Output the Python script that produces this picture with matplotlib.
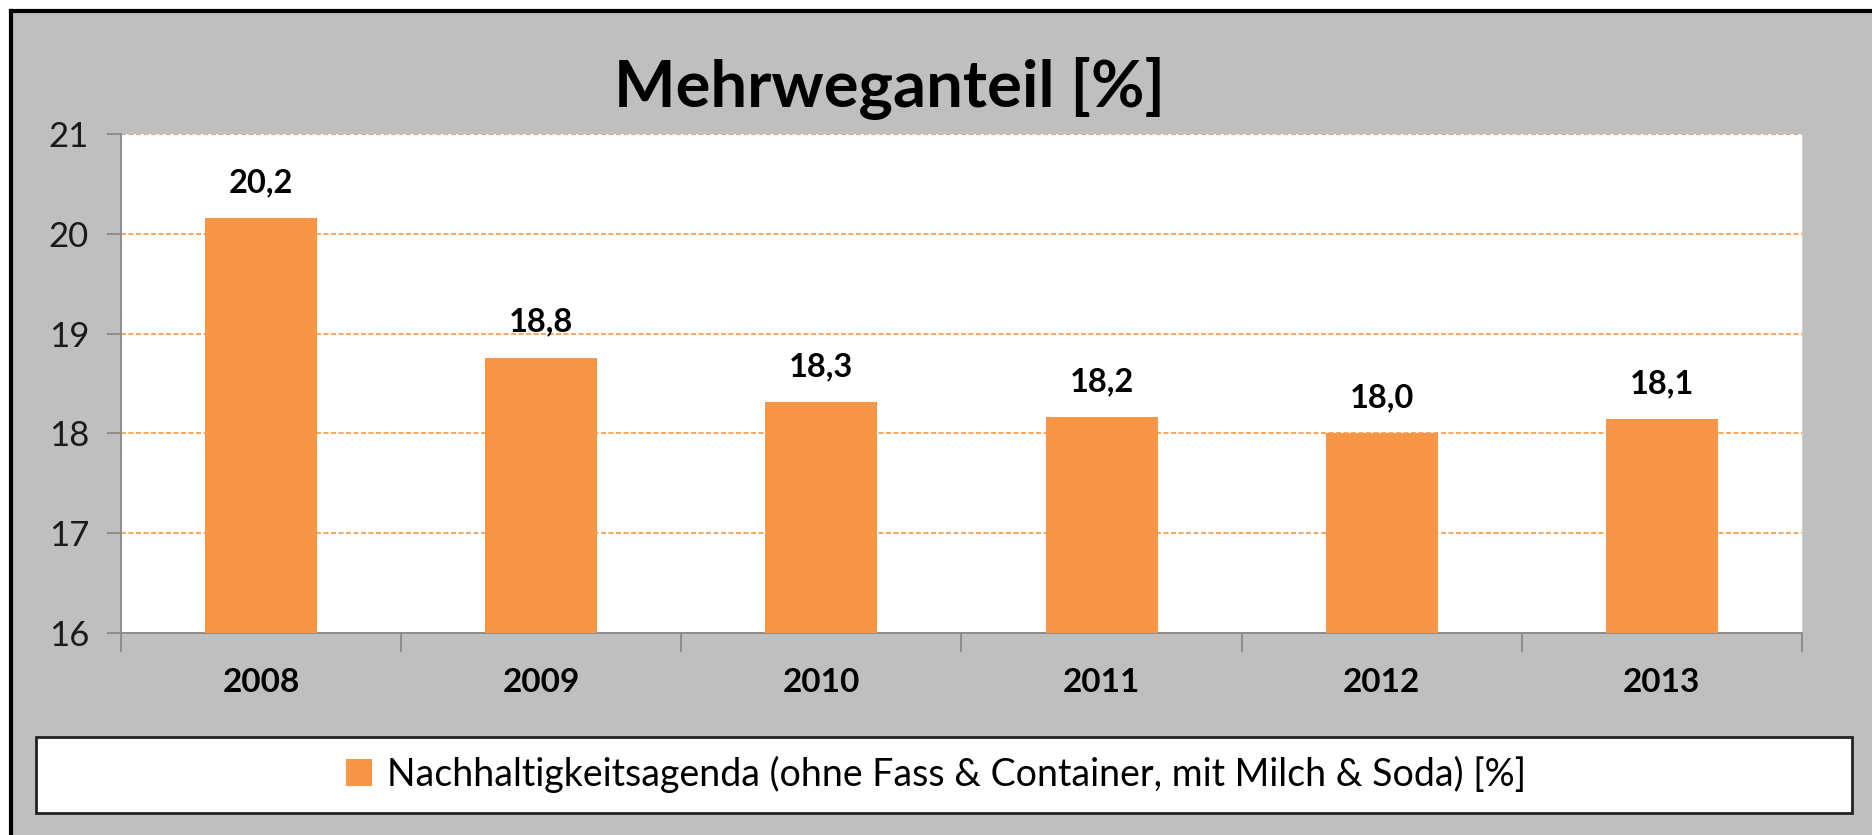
import numpy as np
import matplotlib.pyplot as plt
from matplotlib.patches import Rectangle, Patch
from matplotlib.lines import Line2D

# data
years = ['2008', '2009', '2010', '2011', '2012', '2013']
share = [20.16, 18.76, 18.31, 18.16, 18.0, 18.14]
share_labels = ['20,2', '18,8', '18,3', '18,2', '18,0', '18,1']
yticks = [16, 17, 18, 19, 20, 21]
title = 'Mehrweganteil [%]'
legend_label = 'Nachhaltigkeitsagenda (ohne Fass & Container, mit Milch & Soda) [%]'

orange = '#F79646'
grey_bg = '#BFBFBF'

plt.rcParams['font.family'] = ['Lato', 'DejaVu Sans']

W, H = 1872, 835
fig = plt.figure(figsize=(W / 100, H / 100), dpi=100, facecolor=grey_bg)

# white margin top/left and black frame edges (right/bottom are cut off)
fig.patches.append(Rectangle((0, 1 - 9 / H), 1, 9 / H, transform=fig.transFigure,
                             facecolor='white', edgecolor='none', zorder=-10))
fig.patches.append(Rectangle((0, 0), 9 / W, 1, transform=fig.transFigure,
                             facecolor='white', edgecolor='none', zorder=-10))
fig.add_artist(Line2D([10.5 / W, 1], [1 - 10.5 / H, 1 - 10.5 / H],
                      transform=fig.transFigure, color='black', linewidth=3))
fig.add_artist(Line2D([10.5 / W, 10.5 / W], [0, 1 - 10.5 / H],
                      transform=fig.transFigure, color='black', linewidth=3))

ax = fig.add_axes([121 / W, 1 - 633 / H, (1802 - 121) / W, (633 - 134) / H])
ax.set_facecolor('white')

x = np.arange(len(years))
bars = ax.bar(x, share, width=0.4, bottom=0, color=orange, zorder=3)
ax.bar_label(bars, labels=share_labels, padding=15, fontsize=23.5,
             fontweight='bold', color='black')

ax.set_ylim(16, 21)
ax.set_xlim(-0.5, len(years) - 0.5)
ax.set_yticks(yticks)
ax.set_yticklabels([str(t) for t in yticks], fontsize=25, color='#1a1a1a')
ax.yaxis.grid(True, color=orange, linestyle=(0, (3, 1.5)), linewidth=1.2, zorder=1)
ax.set_axisbelow(True)

# category boundary ticks, labels at centers
ax.set_xticks(np.arange(-0.5, len(years)), minor=False)
ax.set_xticklabels([])
ax.set_xticks(x, minor=True)
ax.set_xticklabels(years, minor=True, fontsize=24, fontweight='bold')
ax.tick_params(axis='x', which='major', length=14, color='#8c8c8c', width=1.4)
ax.tick_params(axis='x', which='minor', length=0, pad=25)
ax.tick_params(axis='y', length=10, color='#8c8c8c', width=1.4, pad=13)

for s in ['left', 'bottom']:
    ax.spines[s].set_color('#8c8c8c')
    ax.spines[s].set_linewidth(1.4)
ax.spines['top'].set_visible(False)
ax.spines['right'].set_color('#d0d0d0')

fig.text(889 / W, 1 - 107 / H, title, ha='center', va='baseline',
         fontsize=47, fontweight='bold')

# legend box
fig.patches.append(Rectangle((36 / W, 1 - 813 / H), (1852 - 36) / W, 76 / H,
                             transform=fig.transFigure, facecolor='white',
                             edgecolor='#222222', linewidth=2, zorder=-5))
fig.legend(handles=[Patch(facecolor=orange, label=legend_label)],
           loc='center', bbox_to_anchor=(0.5, 1 - 774 / H), frameon=False,
           fontsize=27, handlelength=0.7, handleheight=0.7, handletextpad=0.4)

fig.savefig('out.png', dpi=100, facecolor=grey_bg)
